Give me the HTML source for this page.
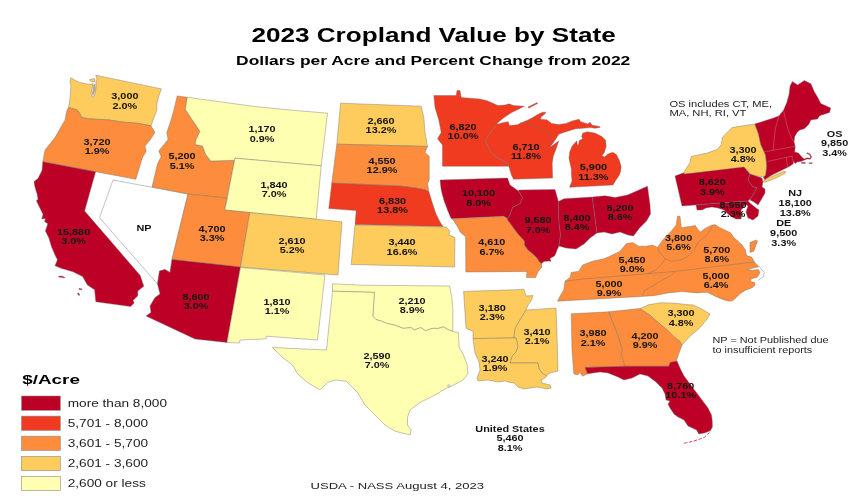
<!DOCTYPE html>
<html lang="en"><head><meta charset="utf-8"><title>2023 Cropland Value by State</title>
<style>
html,body{margin:0;padding:0;background:#fff;}
body{width:858px;height:500px;overflow:hidden;font-family:"Liberation Sans",Arial,sans-serif;}
svg{display:block;filter:blur(.3px);}
.st{stroke:#6e6e6e;stroke-width:.42;stroke-linejoin:round;}
.ln{fill:none;stroke:#6e6e6e;stroke-width:.42;}
.os{fill:none;stroke:#c77;stroke-width:.5;}
.lb{font-weight:700;font-size:8.7px;fill:#141414;text-anchor:middle;}
.t{fill:#000;}
</style></head><body>
<svg width="858" height="500" viewBox="0 0 858 500" font-family="Liberation Sans, Arial, sans-serif">
<rect width="858" height="500" fill="#fff"/>

<g class="st">
<polygon id="WA" fill="#FECC5C" points="69.8,81.7 71,77.8 74.3,79.8 79.5,82.4 86,83.7 90.6,84.3 93.2,83.6 91.9,89.5 91.2,93.4 91.9,97.3 94.5,96 95.1,90.8 96.4,86.9 95.8,83 97,79 95.8,75.2 161.4,88.9 158.8,96 156.9,103.8 156.9,110.3 154.3,116.8 151,125.9 138,123.3 122.4,122 109.4,120 99,119.4 88.6,118.8 81.5,117.5 79.5,112.9 76.9,109.7 71.7,108.4 68.5,107.7 69.8,99.9 70.4,93.4 71,85.6"/>
<polygon id="SJ" fill="#FECC5C" points="89.3,79.8 94.5,78.5 95.1,81.7 91.2,81.7"/>
<polygon id="WHID" fill="#c8b58c" points="93.6,85.2 95,84.2 95.4,88 94.2,92 93,95.6 92.4,93 93.2,89.5"/>
<polygon id="OR" fill="#FD8D3C" points="68.5,107.7 71.7,108.4 76.9,109.7 79.5,112.9 81.5,117.5 88.6,118.8 99,119.4 109.4,120 122.4,122 138,123.3 151,125.9 155,132.5 150,140 145,146.2 146.2,151.2 142.5,157.5 135.8,179.3 42.8,161.7 45,150 55,137.5 65,120 67,110"/>
<polygon id="CA" fill="#BD0026" points="42.8,161.7 95.6,171.8 84.6,211 140.2,275.4 141.4,279 143.8,286.2 137.8,291 137.8,295.8 133,300.6 134.2,303 130.6,306.6 95.8,301.8 94.6,289.8 87.4,285 82.6,276.6 73,271.8 61,268.2 55,265.8 57.4,259.8 55,255 51.4,246.6 49,238.2 45.4,231 47.8,223.8 44.5,221.5 45.5,218.5 41.8,219 43,214.2 38.2,204.6 36.4,200.8 38,199.2 37.2,194.4 34.8,186.4 34,181.6 38,178.4 42,170.4"/>
<polygon id="CI1" fill="#BD0026" points="58.6,276.2 61.5,276 64.6,277.2 64.4,278 61,277.2 58.8,277.2"/>
<polygon id="CI2" fill="#BD0026" points="79,288.2 82,289 81.8,290 79,289.3"/>
<polygon id="CI3" fill="#BD0026" points="77.3,293.3 78.6,293 79.8,295 78.8,295.6"/>
<polygon id="NV" fill="#FFFFFF" points="113,180 188,194 172,259.5 170,272.5 165,269.5 159.5,271 157.5,284 99.5,217.8"/>
<polygon id="ID" fill="#FD8D3C" points="177.2,95.9 187.3,97.3 185.4,109.3 192,119.5 200,131.3 195.8,140 195.4,144.6 202.5,146 205.6,154.2 210.8,161 234.5,160.3 227.2,198.3 188,194 152,187 157.6,163.6 161.1,156.7 158.8,150.9 168,139.4 166.8,132.5 170.3,122.2 173.7,110.7"/>
<polygon id="MT" fill="#FFFFB2" points="187.3,97.3 226.6,102.7 254.6,106.5 291.9,110.2 327.5,113.2 321.2,165.8 235,158.2 234.5,160.3 210.8,161 205.6,154.2 202.5,146 195.4,144.6 195.8,140 200,131.3 192,119.5 185.4,109.3"/>
<polygon id="WY" fill="#FFFFB2" points="235,158.2 321.2,165.8 316.2,219.2 224.5,210 227.2,198.3"/>
<polygon id="UT" fill="#FD8D3C" points="188,194 227.2,198.3 224.5,210 249.8,212.6 240.5,267 172,259.5"/>
<polygon id="CO" fill="#FECC5C" points="249.8,212.6 316.2,219.2 342,221.8 338,275 240.5,267"/>
<polygon id="AZ" fill="#BD0026" points="172,259.5 240.5,267 227,342.5 195,339 146,316 151,312.5 150,306 155,297.5 160,294 157.5,284 159.5,271 165,269.5 170,272.5"/>
<polygon id="NM" fill="#FFFFB2" points="240.5,267.5 325,275 317.5,340 266.2,336.2 266.2,338.8 240,340 239.5,343 227,342.5"/>
<polygon id="ND" fill="#FECC5C" points="340.6,103.2 421.2,106.2 423.8,117.5 425,132.5 427.5,146.4 336.8,144.2"/>
<polygon id="SD" fill="#FD8D3C" points="336.8,144.2 427.5,146.4 425,152.5 429.2,156.2 429.2,180 427.5,183.8 429,192 426,190 416,188 400,186 331.8,183"/>
<polygon id="NE" fill="#F03B20" points="331.8,183 400,186 416,188 426,190 429,192 432,202 436,214 440,222 443,226.6 355,224.5 356.2,210.6 328.8,208.5"/>
<polygon id="KS" fill="#FECC5C" points="355,225 446.2,227 450,231.2 448.8,235 455,237.5 454.5,267 351.2,264.5"/>
<polygon id="OK" fill="#FFFFB2" points="332.5,283.8 361.6,285.2 449.6,286 452,298.8 452.8,308.4 452.8,331.6 447.2,329.2 443.2,326.8 438.4,328.4 432,328.4 425.6,330.8 420.8,327.6 414.4,330 411.2,327.6 403.2,328.4 395.2,325.2 387.2,323.6 381.6,321.2 376,319.6 372.8,316.4 374.4,292.4 332.5,291.2"/>
<polygon id="TX" fill="#FFFFB2" points="332.5,291.2 374.4,292.4 372.8,316.4 376,319.6 381.6,321.2 387.2,323.6 395.2,325.2 403.2,328.4 411.2,327.6 414.4,330 420.8,327.6 425.6,330.8 432,328.4 438.4,328.4 443.2,326.8 447.2,329.2 452.8,331.6 458.4,332.4 459.2,347.5 463,354 467,364 468,374 463,380 450,387 447.5,387.5 435,395 420,402.5 410,410 407.5,417.5 407.5,425 411.2,430 410,435 395,431.2 385,425 377.5,417.5 365,405 357.5,392.5 346.2,381.2 335,380 327.5,382.5 320,390 307.5,382.5 297.5,373.8 292.5,365 282.5,357.5 272.5,347.5 326.5,350"/>
<polygon id="GALV" fill="#FFFFFF" points="447.6,385.2 449.3,384.6 450.2,386 448.6,387.2"/>
<polygon id="MN" fill="#F03B20" points="433.8,95.5 456.2,95.5 457,90.5 460,90.5 461.2,97.5 480,99 487.2,100.8 498,105.6 505.2,105 508.8,103.8 513.6,105.6 524.4,106.2 518.4,109.2 511.2,112.8 504,117.6 498,122.4 496.8,124.2 493.4,128.2 489.2,134.2 485.6,140.8 488,146.2 489.8,151 496.4,157 506,162.4 508.6,165.4 509,166.2 442.5,166.2 442.5,145 437.5,138.8 441.2,132.5 438.8,120 435,107.5"/>
<polygon id="WI" fill="#F03B20" points="496.8,124.2 504,122.4 508.2,121.8 509.4,125.4 517.2,124.8 522,122.4 528,120 532.8,117.6 537.6,114.6 542.4,112.2 546,112.2 544.8,114 541.2,117 540.4,119.3 546.8,119.8 551.6,123.4 558.8,124.6 566,123.4 572,121 579.2,119.2 580.4,121.6 587.6,124 590,122.2 592.4,125.2 599.6,126.4 600.2,127.6 594.8,128.2 590,127.6 582.8,128.2 575.6,128.8 566,131.8 558.8,134.2 555.8,139 553.4,142.6 549.8,147.6 558.8,140.8 555.8,149.8 553.4,155.8 552.2,163 552.6,178 513.5,179.3 511.4,175 508.6,165.4 506,162.4 496.4,157 489.8,151 488,146.2 485.6,140.8 489.2,134.2 493.4,128.2"/>
<polygon id="MI" fill="#F03B20" points="582.8,133 587.6,131.8 594.8,133 602,136.6 605.6,140.2 606.2,146.2 604.4,152.2 602,155.8 604.4,157 608,154 612.8,152.2 616.4,154.6 619.4,160.6 621.2,166.6 620.6,171.4 619.4,175 616,180 613,185 569.5,187.3 572,181 571.4,175 571.4,169 570.2,164.2 569,158.2 569.6,152.2 572,146.2 576.8,140.8 577.4,145 578.6,144.4 579.2,140.8 582.8,138.4 581.6,136.6"/>
<polygon id="IR" fill="#F03B20" points="528,107 537,102.6 537.6,103.6 528.6,108.2"/>
<polygon id="IA" fill="#BD0026" points="440,180 507.5,178 510,185 518.8,191.2 522.5,197.5 520,203.8 512.5,207.5 510,215 507.5,218.8 503.8,216.2 451.2,218.8 447.5,210 443.8,200 441.2,190"/>
<polygon id="MO" fill="#FD8D3C" points="452.5,219 503.8,216.4 507.5,218.8 507,219 518,234 524.5,241 524.5,245 528,250 533,254 537,258 540,262.5 541.5,263.5 542,267 540,269 538,272 535.5,277.5 526.5,277.5 527,271.5 465.8,272 465.6,236.7 460,232 458.7,228.6"/>
<polygon id="IL" fill="#BD0026" points="518.8,190 555,189.6 558.4,201.5 559,222.5 560.5,235 559,246 557,250 556,253 554.5,256 550,258.5 551,261.5 549,261 544,261.5 541.5,263.5 540,262.5 537,258 533,254 528,250 524.5,245 524.5,241 518,234 507,219 507.5,218.8 510,215 512.5,207.5 520,203.8 522.5,197.5 518.8,191.2"/>
<polygon id="IN" fill="#BD0026" points="558.4,201.5 564,198.8 592.3,197 597,233 590,238 584,244 576,249 566,248 559,246 560.5,235 559,222.5"/>
<polygon id="OH" fill="#BD0026" points="592.3,197 605,195.8 615,197.5 627.5,195 647.5,186.2 650,205 650.5,214 646.5,221 639.5,228 633.5,236 628,235 620,232 612,234 604,232 597,233"/>
<polygon id="APP" fill="#FD8D3C" points="565,281.2 570,277.5 571.2,272.5 578.8,271.2 582.5,265 592.5,261.2 603.8,258.8 612.5,255 620,251.2 626.2,243.8 632.5,242.5 638.8,246.2 646.2,246.2 652.5,245 657.5,247.5 660,243.8 665,237.5 671.2,231.2 676.2,225 677.5,216.2 680,216.2 681.2,226.2 681.6,227.8 695.4,225.4 698,229.5 700.5,232 704.5,228.7 711,225.4 715,224.6 719.5,227.5 730.5,232.7 733.8,237.6 737.3,240.5 742,245 745.5,250 746.5,255.6 751.6,257 754.4,261.9 758.6,266.8 752,268.3 747,269.6 752,270.3 758.6,269.6 760,273.1 757.2,277.3 751.6,278.7 750.2,281.5 754.4,282.2 755.1,285 752.3,287.8 746,289.9 740.4,293.4 736.2,297.6 733,300.5 729.6,301.3 724,299.9 715.6,296.4 707.2,292.2 696,292.9 682,291.5 668,292.9 654,295.7 557.5,301.2 560,296.2 563.8,290"/>
<polygon id="VAES" fill="#FD8D3C" points="750,242.5 756.2,240 757.5,241.2 753.8,251.2 750,252.5"/>
<polygon id="AL" fill="#FD8D3C" points="571.2,313.8 608.8,311.8 618.8,337.5 622.5,350 621.2,355 625,366.2 585,367.5 587.5,373.8 582.5,376.2 580,372.5 577.5,375 573.8,373.8 572,350"/>
<polygon id="GA" fill="#FD8D3C" points="608.8,311.8 640,308.5 650,315 660,323.8 667.5,330 675,337.5 680,341.2 682,345 678.8,353.8 676.2,361.2 670,362.5 668.8,366.2 625,366.2 621.2,355 622.5,350 618.8,337.5"/>
<polygon id="SC" fill="#FECC5C" points="640,308.5 648.4,304.8 661,302.7 675,303.2 686.2,304.5 693.2,305 701.6,309 710,314 707.2,318.8 701.6,325.8 697.5,330 690,336.2 682,345 680,341.2 675,337.5 667.5,330 660,323.8 650,315"/>
<polygon id="FL" fill="#BD0026" points="585,367.5 625,366.2 668.8,366.2 670,362.5 677,361 680,368 684,376 690,384 696,392 702,400 708,408 711.5,415 712.3,421 712.4,427 710.4,430.8 704.5,432.9 698.8,434 696.6,430 688,426 684,420 678,417 674,414 670,408 668,404 670,401 666,400 665,394 662,388 656,382 648,376 640,374 632,378 624,380 618,377 608,373 600,372 587.5,373.8"/>
<polygon id="AR" fill="#FECC5C" points="463.6,291.4 524,289.4 526,296 533,295.6 531,301 528,305 526,310 523,315 520,320 517,325 515,329 514,338 473,338.6 473,331 467,329 466,328"/>
<polygon id="MS" fill="#FECC5C" points="526,310 556,308 557,335 558,371 550,373 545,376.5 542,373 539,369 538,363 510,363 512,356 516,352 518,346 516,338 514,338 515,329 517,325 520,320 523,315"/>
<polygon id="LA" fill="#FECC5C" points="473,338.6 514,338 516,338 518,346 516,352 512,356 510,363 538,363 539,369 542,373 547,376 545,378 541,380 542,383 550,385 551,388 546,389 538,387 530,388 524,389 518,387 514,383 508,382 505,381 498,382 488,380 478,381 477,378 480,370 479,362 475,353"/>
<polygon id="NY" fill="#FECC5C" points="754.8,124 758.4,133.6 760.8,144.4 765.6,155.2 766.8,166 765.6,175.6 763.2,176.8 752.4,175.6 746.4,169.6 741.6,168.4 685,174.3 682.8,174.4 684,172 690,162.4 691.2,156.4 697.2,155.2 708,152.8 717.6,149.2 721.2,144.4 722.4,137.2 732,127.6"/>
<polygon id="LI" fill="#FECC5C" points="763.3,181.2 766.6,178.4 775.4,175.1 783.7,171.3 785.9,171.8 784.8,173.5 777.6,177.3 771,180 764.4,182.3"/>
<polygon id="PA" fill="#BD0026" points="675,176 683,173 685,174 744,167 750,174 748,180 752,186 757,188 754,193 751,198 748,201 682,206"/>
<polygon id="MD" fill="#BD0026" points="696,205 748,201 750,203 756,208 759,210 758,216 753,220 748,218 746,212 748,206 745,204 743,208 741,210 742,214 741,219 736,219 732,217 728,214 724,210 718,208 712,207 706,208 702,210 697,210"/>
<polygon id="NJ" fill="#BD0026" points="750,174 762,178 763,182 762,187 765,189 765,193 761,200 758,205 754,202 750,200 751,198 754,193 757,188 752,186 748,180"/>
<polygon id="OS" fill="#BD0026" points="754.8,124 773.6,117.9 779.1,115.7 783.5,110.2 786.8,102.5 789,94.8 790.1,86 792.3,81.6 797.7,84.9 804.3,80.5 810.9,83.8 814.2,91.5 817.5,97 820.8,103.6 830.7,108 829.6,112.4 819.7,115.7 817.5,119 810.9,120.1 808.7,124.5 804.3,128.8 799.9,129.9 797.4,132 794.7,136.6 794.1,142.1 795.2,146.5 794.7,152 798.5,153.1 801.8,157 804,159 807.3,157.8 809.8,158.2 810.7,156.8 809.3,154.6 806.8,153.5 807,152.7 809.9,153.8 811.7,156.8 810.4,159.2 807.3,158.9 804,160.2 800.7,161.4 797.4,161.9 795.2,163.6 793.6,161.4 793,164.1 789.7,166.3 785.3,168.5 778.7,171.8 772.1,175.1 767.2,177.9 764.6,179.8 763.4,177 765.6,175.6 766.8,166 765.6,155.2 760.8,144.4 758.4,133.6"/>
<polygon id="MV" fill="#BD0026" points="801.3,162.3 805.5,162.6 805.3,163.5 801.6,163.3"/>
<polygon id="NAN" fill="#BD0026" points="809,162.7 812.3,162.7 812.1,163.6 809.2,163.5"/>
</g>
<polyline class="ln" points="565,281.2 585,278.8 675,271.4 754.4,261.9"/>
<polyline class="ln" points="758.6,266.1 764.2,272.4 763.5,276.6 758.6,280.1"/>
<polyline class="ln" points="657.5,247.5 659.5,252.3 665.3,258.8 662,263.7 655.5,270.3 647.3,273.6"/>
<polyline class="ln" points="665.3,258.8 671.8,261.3 681.6,259.6 689,255.6 694.6,249 698,242.5 701,240 706,236 711,229.5 712.5,225.4"/>
<polyline class="ln" points="675,272 670,276.2 660,281.2 652.5,286.2 645,290 642.5,295"/>
<polyline points="684,443.3 694,441 704,437.6 709.5,432.5" fill="none" stroke="#BD0026" stroke-width="0.7" stroke-dasharray="3.5 1.5"/>
<polyline class="ln" points="520,122.6 526,124 536,127 546,131 551,136 552,140 550.4,146.8"/>
<polyline class="os" points="779.1,115.7 775.5,128 774.3,138 773.2,150.3"/>
<polyline class="os" points="783.5,110.2 787.5,128 791,137 794.3,142.5"/>
<polyline class="os" points="764.4,151.8 795.2,146.3"/>
<polyline class="os" points="767.7,161.4 793,155.9"/>
<polyline class="os" points="786.4,157.5 787.5,167"/>
<polyline class="os" points="791.9,156.4 793.4,162"/>
<g class="lb">
<text transform="translate(124.9,99.1) scale(1.25,1)">3,000</text>
<text transform="translate(124.9,108.9) scale(1.25,1)">2.0%</text>
<text transform="translate(97,144.5) scale(1.25,1)">3,720</text>
<text transform="translate(97,154.3) scale(1.25,1)">1.9%</text>
<text transform="translate(73.6,234.6) scale(1.25,1)">15,880</text>
<text transform="translate(73.6,244.4) scale(1.25,1)">3.0%</text>
<text transform="translate(144,231) scale(1.25,1)">NP</text>
<text transform="translate(182,158.7) scale(1.25,1)">5,200</text>
<text transform="translate(182,168.5) scale(1.25,1)">5.1%</text>
<text transform="translate(262,131.9) scale(1.25,1)">1,170</text>
<text transform="translate(262,141.7) scale(1.25,1)">0.9%</text>
<text transform="translate(274,187.5) scale(1.25,1)">1,840</text>
<text transform="translate(274,197.3) scale(1.25,1)">7.0%</text>
<text transform="translate(212,231.5) scale(1.25,1)">4,700</text>
<text transform="translate(212,241.3) scale(1.25,1)">3.3%</text>
<text transform="translate(292,243.5) scale(1.25,1)">2,610</text>
<text transform="translate(292,253.3) scale(1.25,1)">5.2%</text>
<text transform="translate(196,299.5) scale(1.25,1)">8,600</text>
<text transform="translate(196,309.3) scale(1.25,1)">3.0%</text>
<text transform="translate(277,304.5) scale(1.25,1)">1,810</text>
<text transform="translate(277,314.3) scale(1.25,1)">1.1%</text>
<text transform="translate(381,123.5) scale(1.25,1)">2,660</text>
<text transform="translate(381,133.3) scale(1.25,1)">13.2%</text>
<text transform="translate(382,163.5) scale(1.25,1)">4,550</text>
<text transform="translate(382,173.3) scale(1.25,1)">12.9%</text>
<text transform="translate(392.5,203.5) scale(1.25,1)">6,830</text>
<text transform="translate(392.5,213.3) scale(1.25,1)">13.8%</text>
<text transform="translate(402,244.8) scale(1.25,1)">3,440</text>
<text transform="translate(402,254.6) scale(1.25,1)">16.6%</text>
<text transform="translate(412,303.5) scale(1.25,1)">2,210</text>
<text transform="translate(412,313.3) scale(1.25,1)">8.9%</text>
<text transform="translate(377,358.5) scale(1.25,1)">2,590</text>
<text transform="translate(377,368.3) scale(1.25,1)">7.0%</text>
<text transform="translate(463,129.5) scale(1.25,1)">6,820</text>
<text transform="translate(463,139.3) scale(1.25,1)">10.0%</text>
<text transform="translate(526,149.5) scale(1.25,1)">6,710</text>
<text transform="translate(526,159.3) scale(1.25,1)">11.8%</text>
<text transform="translate(593.4,169.7) scale(1.25,1)">5,900</text>
<text transform="translate(593.4,179.5) scale(1.25,1)">11.3%</text>
<text transform="translate(478.6,196) scale(1.25,1)">10,100</text>
<text transform="translate(478.6,205.8) scale(1.25,1)">8.0%</text>
<text transform="translate(491.8,245) scale(1.25,1)">4,610</text>
<text transform="translate(491.8,254.8) scale(1.25,1)">6.7%</text>
<text transform="translate(538,223.1) scale(1.25,1)">9,580</text>
<text transform="translate(538,232.9) scale(1.25,1)">7.0%</text>
<text transform="translate(577,220.5) scale(1.25,1)">8,400</text>
<text transform="translate(577,230.3) scale(1.25,1)">8.4%</text>
<text transform="translate(620,210.5) scale(1.25,1)">8,200</text>
<text transform="translate(620,220.3) scale(1.25,1)">8.6%</text>
<text transform="translate(492.2,310.5) scale(1.25,1)">3,180</text>
<text transform="translate(492.2,320.3) scale(1.25,1)">2.3%</text>
<text transform="translate(495,361.5) scale(1.25,1)">3,240</text>
<text transform="translate(495,371.3) scale(1.25,1)">1.9%</text>
<text transform="translate(537,334.5) scale(1.25,1)">3,410</text>
<text transform="translate(537,344.3) scale(1.25,1)">2.1%</text>
<text transform="translate(632,262.5) scale(1.25,1)">5,450</text>
<text transform="translate(632,272.3) scale(1.25,1)">9.0%</text>
<text transform="translate(609,286.5) scale(1.25,1)">5,000</text>
<text transform="translate(609,296.3) scale(1.25,1)">9.9%</text>
<text transform="translate(678.6,240.5) scale(1.25,1)">3,800</text>
<text transform="translate(678.6,250.3) scale(1.25,1)">5.6%</text>
<text transform="translate(716.8,252.5) scale(1.25,1)">5,700</text>
<text transform="translate(716.8,262.3) scale(1.25,1)">8.6%</text>
<text transform="translate(716,278.5) scale(1.25,1)">5,000</text>
<text transform="translate(716,288.3) scale(1.25,1)">6.4%</text>
<text transform="translate(593,336.3) scale(1.25,1)">3,980</text>
<text transform="translate(593,346.1) scale(1.25,1)">2.1%</text>
<text transform="translate(645,338.5) scale(1.25,1)">4,200</text>
<text transform="translate(645,348.3) scale(1.25,1)">9.9%</text>
<text transform="translate(681,316.1) scale(1.25,1)">3,300</text>
<text transform="translate(681,325.9) scale(1.25,1)">4.8%</text>
<text transform="translate(680.7,388.6) scale(1.25,1)">8,760</text>
<text transform="translate(680.7,398.4) scale(1.25,1)">10.1%</text>
<text transform="translate(743,152.5) scale(1.25,1)">3,300</text>
<text transform="translate(743,162.3) scale(1.25,1)">4.8%</text>
<text transform="translate(712.3,184.7) scale(1.25,1)">8,620</text>
<text transform="translate(712.3,194.5) scale(1.25,1)">3.9%</text>
<text transform="translate(733,207.5) scale(1.25,1)">8,950</text>
<text transform="translate(733,217.3) scale(1.25,1)">2.3%</text>
<text transform="translate(834.6,136.5) scale(1.25,1)">OS</text>
<text transform="translate(834.6,146.3) scale(1.25,1)">9,850</text>
<text transform="translate(834.6,156.1) scale(1.25,1)">3.4%</text>
<text transform="translate(795.2,196.1) scale(1.25,1)">NJ</text>
<text transform="translate(795.2,205.9) scale(1.25,1)">18,100</text>
<text transform="translate(795.2,215.7) scale(1.25,1)">13.8%</text>
<text transform="translate(783.7,226.2) scale(1.25,1)">DE</text>
<text transform="translate(783.7,236) scale(1.25,1)">9,500</text>
<text transform="translate(783.7,245.8) scale(1.25,1)">3.3%</text>
<text transform="translate(510,431.5) scale(1.25,1)">United States</text>
<text transform="translate(510,441.3) scale(1.25,1)">5,460</text>
<text transform="translate(510,451.1) scale(1.25,1)">8.1%</text>
</g>
<text class="t" font-weight="700" font-size="19.7" x="251.4" y="42.2" textLength="364.3" lengthAdjust="spacingAndGlyphs">2023 Cropland Value by State</text>
<text class="t" font-weight="700" font-size="13.2" x="236.1" y="65" textLength="394.2" lengthAdjust="spacingAndGlyphs">Dollars per Acre and Percent Change from 2022</text>
<text class="t" font-weight="700" font-size="13.5" x="22.2" y="383.5" textLength="57.7" lengthAdjust="spacingAndGlyphs">$/Acre</text>
<rect x="21.5" y="396" width="38.8" height="14.3" fill="#BD0026" stroke="#8a8a8a" stroke-width=".6"/>
<text font-size="10.3" fill="#222" transform="translate(67.7,407) scale(1.325,1)">more than 8,000</text>
<rect x="21.5" y="416.1" width="38.8" height="14.3" fill="#F03B20" stroke="#8a8a8a" stroke-width=".6"/>
<text font-size="10.3" fill="#222" transform="translate(67.7,427.1) scale(1.325,1)">5,701 - 8,000</text>
<rect x="21.5" y="436.2" width="38.8" height="14.3" fill="#FD8D3C" stroke="#8a8a8a" stroke-width=".6"/>
<text font-size="10.3" fill="#222" transform="translate(67.7,447.2) scale(1.325,1)">3,601 - 5,700</text>
<rect x="21.5" y="456.3" width="38.8" height="14.3" fill="#FECC5C" stroke="#8a8a8a" stroke-width=".6"/>
<text font-size="10.3" fill="#222" transform="translate(67.7,467.3) scale(1.325,1)">2,601 - 3,600</text>
<rect x="21.5" y="476.4" width="38.8" height="14.3" fill="#FFFFB2" stroke="#8a8a8a" stroke-width=".6"/>
<text font-size="10.3" fill="#222" transform="translate(67.7,487.4) scale(1.325,1)">2,600 or less</text>
<text font-size="8.5" fill="#222" x="669.4" y="106.6" textLength="102.7" lengthAdjust="spacingAndGlyphs">OS includes CT, ME,</text>
<text font-size="8.5" fill="#222" x="669.4" y="116.1" textLength="77" lengthAdjust="spacingAndGlyphs">MA, NH, RI, VT</text>
<text font-size="8.2" fill="#222" x="712.5" y="343.4" textLength="116" lengthAdjust="spacingAndGlyphs">NP = Not Published due</text>
<text font-size="8.2" fill="#222" x="712.5" y="353.1" textLength="99.8" lengthAdjust="spacingAndGlyphs">to insufficient reports</text>
<text font-size="9.7" fill="#222" x="310.5" y="488.6" textLength="173.6" lengthAdjust="spacingAndGlyphs">USDA - NASS August 4, 2023</text>
</svg></body></html>
